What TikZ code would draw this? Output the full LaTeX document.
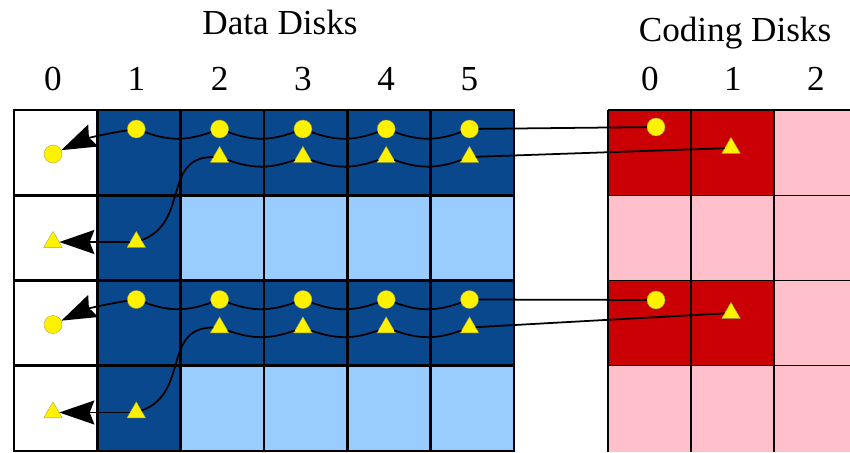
\documentclass[tikz,border=0pt]{standalone}
\usepackage{fontspec}
\setmainfont{Liberation Serif}
\usetikzlibrary{arrows.meta,shapes.geometric}

\definecolor{diskdark}{RGB}{10,72,142}
\definecolor{disklight}{RGB}{153,204,255}
\definecolor{codedark}{RGB}{202,0,4}
\definecolor{codepink}{RGB}{255,192,203}

\begin{document}
\begin{tikzpicture}[x=0.03cm,y=-0.03cm,
    bit/.style={draw=yellow!60!black,line width=0.3pt,fill=yellow,inner sep=0pt},
    dot/.style={bit,circle,minimum size=0.54cm},
    tri/.style={bit,regular polygon,regular polygon sides=3,minimum size=0.64cm},
    link/.style={line width=1.5pt},
    back/.style={link,-{Stealth[length=1.05cm,width=0.72cm,inset=0.14cm]}},
    heading/.style={font=\fontsize{30}{34}\selectfont,anchor=base,inner sep=0pt}]
    \useasboundingbox (0,0) rectangle (850,452);

    % data disks
    \fill[diskdark] (97.3,110) rectangle (514,195.25);
    \fill[diskdark] (97.3,280.5) rectangle (514,365.75);
    \fill[diskdark] (97.3,195.25) rectangle (180.7,280.5);
    \fill[diskdark] (97.3,365.75) rectangle (180.7,451);
    \fill[disklight] (180.7,195.25) rectangle (514,280.5);
    \fill[disklight] (180.7,365.75) rectangle (514,451);
    \foreach \x in {14,97.3,180.7,264,347.3,430.7,514}
        \draw[line width=2.5pt] (\x,110) -- (\x,451);
    \foreach \y in {110,195.25,280.5,365.75,451}
        \draw[line width=2.5pt] (12.8,\y) -- (515.2,\y);

    % coding disks
    \fill[codepink] (608,110) rectangle (850,452);
    \fill[codedark] (608,110) rectangle (774,195.25);
    \fill[codedark] (608,280.5) rectangle (774,365.75);
    \foreach \x in {608,691,774}
        \draw[line width=1pt] (\x,110) -- (\x,452);
    \foreach \y in {110,195.25,280.5,365.75}
        \draw[line width=1pt] (608,\y) -- (850,\y);

    % headings
    \node[heading] (datatitle) at (280,35) {Data Disks};
    \node[heading] (codetitle) at (735,42) {Coding Disks};
    \foreach \k in {0,...,5}
        \node[heading] (dnum\k) at ({53+83.3*\k},91) {\k};
    \foreach \k in {0,1,2}
        \node[heading] (cnum\k) at ({650+83*\k},91) {\k};

    % two stripes, each one with a circle and a triangle chain
    \foreach \s/\dy/\cy/\ty in {0/0/127/148, 1/170.5/300/313} {
        \foreach \k in {1,...,5}
            \node[dot] (dot\s\k) at ({53+83.3*\k},129+\dy) {};
        \foreach \k in {2,...,5}
            \node[tri] (tri\s\k) at ({53+83.3*\k},157+\dy) {};
        \node[dot] (dot\s0) at (53,154+\dy) {};
        \node[tri] (low\s0) at (53,242+\dy) {};
        \node[tri] (low\s1) at (136.3,242+\dy) {};
        \node[dot] (dotc\s) at (656,\cy) {};
        \node[tri] (tric\s) at (731,\ty) {};

        \draw[link] (dotc\s) -- (dot\s5);
        \draw[link] (dot\s5) to[bend left=20] (dot\s4);
        \draw[link] (dot\s4) to[bend left=20] (dot\s3);
        \draw[link] (dot\s3) to[bend left=20] (dot\s2);
        \draw[link] (dot\s2) to[bend left=20] (dot\s1);
        \draw[back] (dot\s1) to[bend right=8] (dot\s0);

        \draw[link] (tric\s) -- (tri\s5);
        \draw[link] (tri\s5) to[bend left=20] (tri\s4);
        \draw[link] (tri\s4) to[bend left=20] (tri\s3);
        \draw[link] (tri\s3) to[bend left=20] (tri\s2);
        \draw[link] (tri\s2) to[out=180,in=20,looseness=1.2] (low\s1);
        \draw[back] (low\s1) -- (low\s0);
    }
\end{tikzpicture}
\end{document}
